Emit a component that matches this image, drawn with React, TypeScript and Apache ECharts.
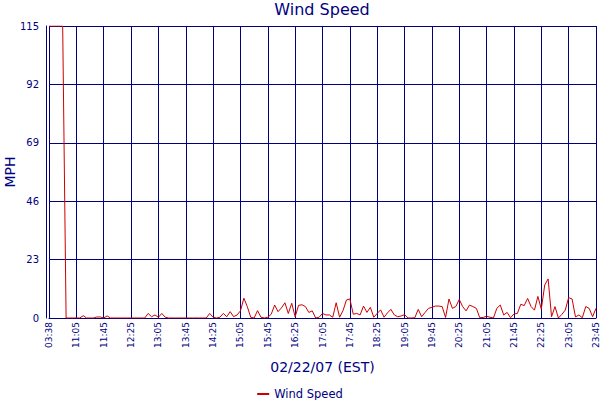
import { useEffect, useRef } from 'react';
import * as echarts from 'echarts';

// first reading, then readings every 5 minutes from 10:30 to 23:45
const firstTime = '03:38';
const dayStart = 10 * 60 + 30;
const dayEnd = 23 * 60 + 45;
const times: string[] = [firstTime];
for (let m = dayStart; m <= dayEnd; m += 5) {
  const h = Math.floor(m / 60);
  const mm = m % 60;
  times.push(String(h).padStart(2, '0') + ':' + String(mm).padStart(2, '0'));
}

const windSpeed = [
  115, 115, 115, 115, 115, 0, 0, 0, 0, 0,
  0.9, 0, 0, 0, 0.4, 0.4, 0, 0.8, 0, 0,
  0, 0, 0, 0, 0, 0, 0, 0, 0, 1.8,
  0.5, 1.2, 0.3, 1.8, 0.3, 0, 0, 0, 0, 0,
  0, 0, 0, 0, 0, 0, 0, 1.8, 0.3, 0,
  0.3, 1.8, 0.5, 2.5, 0.5, 1.2, 2.8, 7.8, 4.5, 0.3,
  0, 2.9, 0.3, 0, 0.3, 1.5, 5.1, 2.5, 4, 6,
  1.8, 5.8, 0.5, 5, 5.2, 4.5, 2.2, 2.8, 0, 0.3,
  1.8, 1.2, 1.2, 0.3, 6, 0.3, 2.9, 7.1, 7.5, 1.5,
  1.8, 1.2, 4.7, 2.2, 4.2, 0.3, 1.8, 3.2, 0.3, 2,
  3.4, 1.2, 0.5, 0.8, 1.3, 0, 0, 0.1, 3.4, 0.5,
  2.2, 3.8, 4.2, 4.7, 4.7, 4.5, 0.2, 7.5, 3.8, 4.5,
  7.3, 4.5, 2.8, 5.1, 4.5, 3.8, 0.1, 0.2, 0.7, 0.3,
  0, 3.8, 5.1, 1.2, 2.2, 0.1, 1.6, 1.8, 5.4, 4.9,
  7.7, 4.5, 3.1, 8.5, 3.5, 13, 15.4, 0.5, 4.5, 0,
  1.4, 3.1, 8, 7.5, 0.4, 1.2, 0.1, 4.5, 3.8, 0.5,
  3.8,
];

const yMax = 115;
const yStep = 23;
const labelEvery = 8;

const navy = '#000080';
const font = 'DejaVu Sans';

const showIdx = (i: number) => i === 0 || i % labelEvery === 0;

export default function App() {
  const chartRef = useRef<HTMLDivElement>(null);

  useEffect(() => {
    document.body.style.margin = '0';
    const chart = echarts.init(chartRef.current, null, { renderer: 'svg' });
    chart.setOption({
      animation: false,
      textStyle: { fontFamily: font },
      title: {
        text: 'Wind Speed',
        left: 322,
        textAlign: 'center',
        top: 1,
        padding: 0,
        textStyle: { color: navy, fontSize: 16, fontWeight: 'normal', fontFamily: font },
      },
      legend: {
        data: ['Wind Speed'],
        top: 383,
        left: 'center',
        icon: 'rect',
        itemWidth: 12,
        itemHeight: 2,
        itemGap: 4,
        textStyle: { color: navy, fontSize: 11.5, fontFamily: font },
      },
      grid: { left: 49, right: 4, top: 26, bottom: 82, outerBoundsMode: 'none', containLabel: false },
      xAxis: {
        type: 'category',
        data: times,
        boundaryGap: false,
        name: '02/22/07 (EST)',
        nameLocation: 'middle',
        nameGap: 42,
        nameMoveOverlap: false,
        nameTextStyle: { color: navy, fontSize: 14, fontFamily: font },
        axisLine: { lineStyle: { color: navy, width: 1 } },
        axisTick: { show: false },
        axisLabel: {
          interval: (i: number) => showIdx(i),
          rotate: 90,
          margin: 4,
          color: navy,
          fontSize: 9,
          fontFamily: font,
        },
        splitLine: {
          show: true,
          interval: (i: number) => showIdx(i),
          lineStyle: { color: navy, width: 1 },
        },
      },
      yAxis: {
        type: 'value',
        min: 0,
        max: yMax,
        interval: yStep,
        offset: 3,
        name: 'MPH',
        nameLocation: 'middle',
        nameGap: 29,
        nameMoveOverlap: false,
        nameTextStyle: { color: navy, fontSize: 14, fontFamily: font },
        axisLine: { show: true, lineStyle: { color: navy, width: 1 } },
        axisTick: { show: false },
        axisLabel: { color: navy, fontSize: 10, margin: 7, fontFamily: font },
        splitLine: { show: true, lineStyle: { color: navy, width: 1 } },
      },
      series: [
        {
          name: 'Wind Speed',
          type: 'line',
          data: windSpeed,
          symbol: 'none',
          lineStyle: { color: '#cc0000', width: 1 },
          itemStyle: { color: '#cc0000' },
        },
      ],
    });
    return () => {
      chart.dispose();
    };
  }, []);

  return <div ref={chartRef} style={{ width: '600px', height: '400px' }} />;
}
